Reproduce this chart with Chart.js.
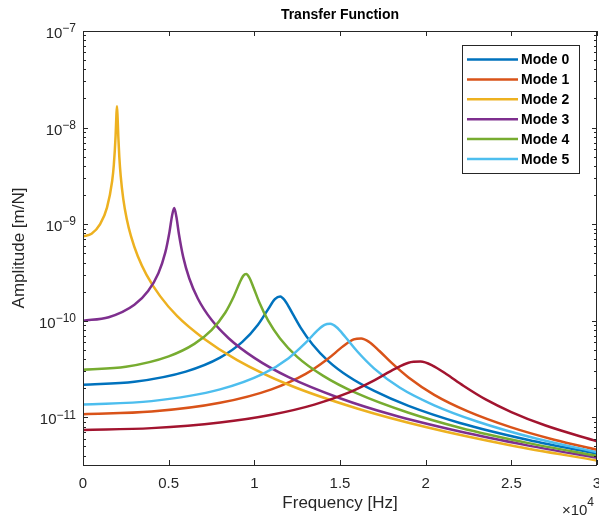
<!DOCTYPE html>
<html>
<head>
<meta charset="utf-8">
<script src="https://cdn.jsdelivr.net/npm/chart.js@4.4.0/dist/chart.umd.min.js"></script>
<style>
  html, body { margin: 0; padding: 0; background: #fff; }
</style>
</head>
<body>
<canvas id="chart" width="599" height="520"></canvas>
<script>
// Frequências (Hz) e amplitudes (m/N), uma lista por modo
const freqMode0 = [0, 3000, 6000, 8000, 9300, 10200, 10800, 11200, 11509, 11800, 12200, 12700, 13400, 14300, 15500, 17000, 19000, 22000, 26000, 30000];
const ampMode0  = [2.17e-11, 2.33e-11, 2.97e-11, 4.14e-11, 6.02e-11, 9.03e-11, 1.31e-10, 1.67e-10, 1.78e-10, 1.60e-10, 1.21e-10, 8.48e-11, 5.67e-11, 3.84e-11, 2.64e-11, 1.87e-11, 1.31e-11, 8.72e-12, 5.81e-12, 4.19e-12];

const freqMode1 = [0, 4000, 8000, 11000, 13000, 14300, 15200, 15800, 16234, 16700, 17300, 18000, 19000, 20500, 22500, 25000, 27500, 30000];
const ampMode1  = [1.074e-11, 1.143e-11, 1.41e-11, 1.945e-11, 2.81e-11, 4.03e-11, 5.45e-11, 6.39e-11, 6.55e-11, 6.02e-11, 4.85e-11, 3.67e-11, 2.58e-11, 1.706e-11, 1.143e-11, 7.85e-12, 5.85e-12, 4.59e-12];

const freqMode2 = [0, 500, 1000, 1400, 1700, 1800, 1900, 1950, 1983, 2020, 2060, 2120, 2200, 2350, 2550, 2800, 3200, 3700, 4500, 5500, 7000, 9000, 12000, 16000, 20000, 25000, 30000];
const ampMode2  = [7.45e-10, 7.96e-10, 9.99e-10, 1.48e-9, 2.78e-9, 4.12e-9, 8.05e-9, 1.354e-8, 1.663e-8, 1.259e-8, 8.12e-9, 4.94e-9, 3.16e-9, 1.826e-9, 1.136e-9, 7.50e-10, 4.64e-10, 3.00e-10, 1.795e-10, 1.113e-10, 6.63e-11, 3.91e-11, 2.17e-11, 1.232e-11, 7.92e-12, 5.10e-12, 3.56e-12];

const freqMode3 = [0, 1500, 3000, 3800, 4400, 4800, 5050, 5200, 5326, 5450, 5600, 5850, 6200, 6700, 7500, 8500, 10000, 12000, 15000, 18000, 22000, 26000, 30000];
const ampMode3  = [1.0e-10, 1.086e-10, 1.462e-10, 2.027e-10, 3.10e-10, 5.06e-10, 8.35e-10, 1.231e-9, 1.47e-9, 1.19e-9, 7.85e-10, 4.55e-10, 2.75e-10, 1.698e-10, 1.02e-10, 6.58e-11, 4.12e-11, 2.60e-11, 1.573e-11, 1.066e-11, 7.10e-12, 5.08e-12, 3.80e-12];

const freqMode4 = [0, 2500, 5000, 6500, 7500, 8300, 8800, 9150, 9350, 9525, 9700, 9950, 10300, 10800, 11500, 12500, 14000, 16000, 19000, 22000, 26000, 30000];
const ampMode4  = [3.10e-11, 3.33e-11, 4.27e-11, 5.75e-11, 7.98e-11, 1.208e-10, 1.781e-10, 2.484e-10, 2.91e-10, 3.04e-10, 2.81e-10, 2.21e-10, 1.534e-10, 1.006e-10, 6.54e-11, 4.22e-11, 2.70e-11, 1.762e-11, 1.111e-11, 7.78e-12, 5.39e-12, 3.97e-12];

const freqMode5 = [0, 4000, 8000, 10500, 12000, 13000, 13700, 14100, 14426, 14800, 15300, 16000, 17000, 18500, 20500, 23000, 26500, 30000];
const ampMode5  = [1.355e-11, 1.468e-11, 1.943e-11, 2.81e-11, 4.09e-11, 5.91e-11, 7.98e-11, 9.06e-11, 9.28e-11, 8.54e-11, 6.81e-11, 4.82e-11, 3.19e-11, 2.019e-11, 1.329e-11, 9.04e-12, 5.98e-12, 4.34e-12];

// curva vermelha escura (sem entrada na legenda)
const freqMode6 = [0, 4000, 8000, 11000, 13500, 15500, 17000, 18200, 19000, 19700, 20400, 21200, 22200, 23500, 25000, 27000, 30000];
const ampMode6  = [7.39e-12, 7.71e-12, 8.81e-12, 1.061e-11, 1.351e-11, 1.798e-11, 2.413e-11, 3.17e-11, 3.67e-11, 3.77e-11, 3.43e-11, 2.80e-11, 2.119e-11, 1.529e-11, 1.132e-11, 8.20e-12, 5.63e-12];

const modeLabels = ['Mode 0', 'Mode 1', 'Mode 2', 'Mode 3', 'Mode 4', 'Mode 5', 'Mode 6'];
const modeColors = ['#0072BD', '#D95319', '#EDB120', '#7E2F8E', '#77AC30', '#4DBEEE', '#A2142F'];
const legendCount = 6;

// Eixos
const xTickLabels = ['0', '0.5', '1', '1.5', '2', '2.5', '3'];
const yTickValues = [1e-7, 1e-8, 1e-9, 1e-10, 1e-11];
const yTickExponents = ['\u22127', '\u22128', '\u22129', '\u221210', '\u221211'];
const yMin = 3.2e-12;
const yMax = 1e-7;

const allFreqs = [freqMode0, freqMode1, freqMode2, freqMode3, freqMode4, freqMode5, freqMode6];
const allAmps = [ampMode0, ampMode1, ampMode2, ampMode3, ampMode4, ampMode5, ampMode6];

const FONT = '"Liberation Sans", Arial, Helvetica, sans-serif';
const AXIS_COLOR = '#262626';

// Função para desenhar moldura, ticks, rótulos e legenda no estilo MATLAB
const matlabAxes = {
    id: 'matlabAxes',
    afterDraw(chart) {
        const ctx = chart.ctx;
        const area = chart.chartArea;
        const xs = chart.scales.x;
        const ys = chart.scales.y;

        ctx.save();
        ctx.strokeStyle = AXIS_COLOR;
        ctx.lineWidth = 1;

        // ticks do eixo x (baixo e cima)
        xs.ticks.forEach(t => {
            const px = Math.round(xs.getPixelForValue(t.value)) + 0.5;
            ctx.beginPath();
            ctx.moveTo(px, area.bottom);
            ctx.lineTo(px, area.bottom - 5);
            ctx.moveTo(px, area.top);
            ctx.lineTo(px, area.top + 5);
            ctx.stroke();
        });

        // ticks do eixo y (esquerda e direita)
        ys.ticks.forEach(t => {
            const py = Math.round(ys.getPixelForValue(t.value)) + 0.5;
            const len = t.major ? 5 : 3;
            ctx.beginPath();
            ctx.moveTo(area.left, py);
            ctx.lineTo(area.left + len, py);
            ctx.moveTo(area.right, py);
            ctx.lineTo(area.right - len, py);
            ctx.stroke();
        });

        // moldura
        ctx.strokeRect(Math.round(area.left) + 0.5, Math.round(area.top) + 0.5,
            Math.round(area.right - area.left) - 1, Math.round(area.bottom - area.top));

        // rótulos do eixo y: 10 com expoente
        ctx.fillStyle = AXIS_COLOR;
        ctx.textBaseline = 'middle';
        ctx.textAlign = 'right';
        yTickValues.forEach((v, i) => {
            const py = ys.getPixelForValue(v);
            const expX = area.left - 7;
            ctx.font = '12px ' + FONT;
            const w = ctx.measureText(yTickExponents[i]).width;
            ctx.fillText(yTickExponents[i], expX, py - 2);
            ctx.font = '15px ' + FONT;
            ctx.fillText('10', expX - w, py + 3);
        });

        // multiplicador x10^4
        ctx.font = '12px ' + FONT;
        ctx.fillText('4', 594, 503);
        const w4 = ctx.measureText('4').width;
        ctx.font = '15px ' + FONT;
        ctx.fillText('\u00d710', 594 - w4, 511);

        // título
        ctx.fillStyle = '#000';
        ctx.textAlign = 'center';
        ctx.font = 'bold 14px ' + FONT;
        ctx.fillText('Transfer Function', (area.left + area.right) / 2, 15);

        // legenda
        const boxL = 462, boxT = 45, boxR = 579, boxB = 173;
        ctx.fillStyle = '#fff';
        ctx.fillRect(boxL, boxT, boxR - boxL, boxB - boxT);
        ctx.strokeStyle = '#262626';
        ctx.lineWidth = 1;
        ctx.strokeRect(boxL + 0.5, boxT + 0.5, boxR - boxL, boxB - boxT);
        ctx.textAlign = 'left';
        ctx.font = 'bold 14px ' + FONT;
        chart.data.datasets.slice(0, legendCount).forEach((ds, i) => {
            const y = 59.5 + i * 19.9;
            ctx.strokeStyle = ds.borderColor;
            ctx.lineWidth = 2.5;
            ctx.beginPath();
            ctx.moveTo(467, y);
            ctx.lineTo(518, y);
            ctx.stroke();
            ctx.fillStyle = '#000';
            ctx.fillText(ds.label, 521, y + 1);
        });

        ctx.restore();
    }
};

function buildDatasets() {
    return allFreqs.map((freqs, i) => ({
        label: modeLabels[i],
        data: freqs.map((f, j) => ({ x: f, y: allAmps[i][j] })),
        borderColor: modeColors[i],
        backgroundColor: modeColors[i],
        borderWidth: 2.5,
        pointRadius: 0,
        fill: false,
        cubicInterpolationMode: 'monotone',
        order: allFreqs.length - 1 - i
    }));
}

const ctx = document.getElementById('chart');
window.transferChart = new Chart(ctx, {
    type: 'line',
    data: { datasets: buildDatasets() },
    options: {
        responsive: false,
        animation: false,
        layout: { padding: { top: 31, right: 2, left: 0, bottom: 0 } },
        plugins: {
            legend: { display: false },
            title: { display: false },
            tooltip: { enabled: false }
        },
        scales: {
            x: {
                type: 'linear',
                min: 0,
                max: 30000,
                grid: { display: false, drawTicks: false },
                border: { display: false },
                ticks: {
                    stepSize: 5000,
                    padding: 10,
                    color: AXIS_COLOR,
                    font: { family: FONT, size: 15 },
                    maxRotation: 0,
                    callback: function(value) {
                        return xTickLabels[Math.round(value / 5000)];
                    }
                },
                title: {
                    display: true,
                    text: 'Frequency [Hz]',
                    color: AXIS_COLOR,
                    font: { family: FONT, size: 17 },
                    padding: { top: 0, bottom: 6 }
                },
                afterFit: function(scale) {
                    scale.height = 55;
                    scale.paddingLeft = 0;
                    scale.paddingRight = 0;
                }
            },
            y: {
                type: 'logarithmic',
                min: yMin,
                max: yMax,
                grid: { display: false, drawTicks: false },
                border: { display: false },
                ticks: { display: false },
                title: {
                    display: true,
                    text: 'Amplitude [m/N]',
                    color: AXIS_COLOR,
                    font: { family: FONT, size: 17 },
                    padding: { top: 9, bottom: 0 }
                },
                afterBuildTicks: function(scale) {
                    const ticks = [];
                    for (let e = -12; e <= -7; e++) {
                        for (let m = 1; m <= 9; m++) {
                            const v = m * Math.pow(10, e);
                            if (v >= yMin * 0.999 && v <= yMax * 1.001) {
                                ticks.push({ value: v, major: m === 1 });
                            }
                        }
                    }
                    scale.ticks = ticks;
                },
                afterFit: function(scale) {
                    scale.width = 83;
                    scale.paddingTop = 0;
                    scale.paddingBottom = 0;
                }
            }
        }
    },
    plugins: [matlabAxes]
});
</script>
</body>
</html>
